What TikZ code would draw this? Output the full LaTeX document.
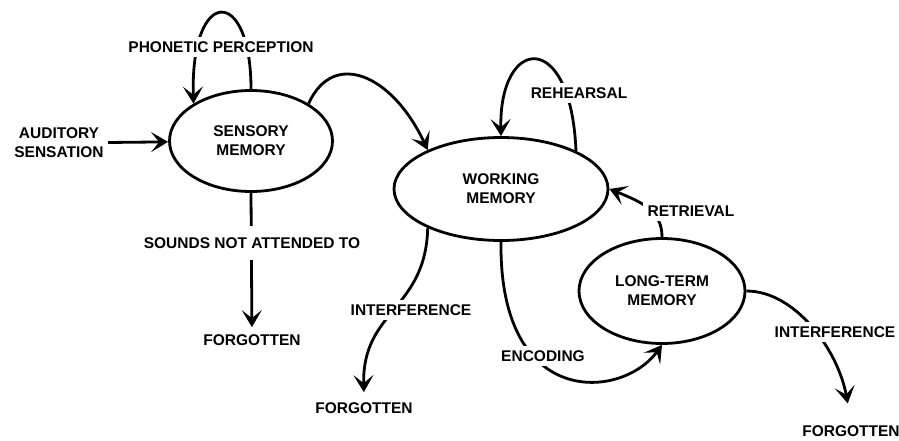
\documentclass[tikz,border=0pt]{standalone}
\usepackage{fontspec}
\setmainfont{Liberation Sans}
\usetikzlibrary{shapes,arrows,arrows.meta,positioning}

\begin{document}
\begin{tikzpicture}[x=1pt,y=-1pt,line width=2.8pt,
        font=\fontsize{15.5}{19}\selectfont\bfseries]
    \tikzstyle{store} = [ellipse, draw, inner sep=0pt, align=center]
    \tikzstyle{word} = [align=center, inner sep=3pt]
    \tikzstyle{cut} = [fill=white, inner sep=5pt]
    \tikzstyle{arrow} = [->,>={Stealth[length=17pt,width=20pt,inset=8pt]}]

    \useasboundingbox (0,0) rectangle (899,440);

    \node [store, minimum width=163pt, minimum height=101pt] (sm) at (251,141) {SENSORY\\MEMORY};
    \node [store, minimum width=214pt, minimum height=103pt] (wm) at (501,189) {WORKING\\MEMORY};
    \node [store, minimum width=166pt, minimum height=105pt] (ltm) at (662,291) {LONG-TERM\\MEMORY};

    \node [word] (aud) at (59,143) {AUDITORY\\SENSATION};
    \node [word] (gone1) at (252,340) {FORGOTTEN};
    \node [word] (gone2) at (364,408) {FORGOTTEN};
    \node [word] (gone3) at (851,431) {FORGOTTEN};

    % connectors
    \draw [arrow] (aud) -- (sm);
    \draw [arrow] (sm.north) .. controls +(0,-104) and +(-3,-118) .. (sm.147);
    \draw [arrow] (sm.33) .. controls +(25,-55) and +(-35,-75) .. (wm.152);
    \draw [arrow] (wm.27) .. controls +(-5,-123) and +(-2,-100) .. (wm.north);
    \draw [arrow] (ltm.north) .. controls +(0,-25) and +(35,14) .. (wm.east);
    \draw [arrow] (wm.south) .. controls +(-2,168) and +(-40,55) .. (ltm.south);
    \draw [arrow, shorten >=3pt] (sm.south) -- (gone1);
    \draw [arrow, shorten >=6pt] (wm.208) .. controls +(-2,82) and +(-2,-88) .. (gone2.north);
    \draw [arrow, shorten >=18pt] (ltm.east) .. controls +(49,0) and +(-13,-71) .. (gone3.north);

    % labels on the connectors
    \node [cut] (phon) at (221,47) {PHONETIC PERCEPTION};
    \node [cut] (rehe) at (579,93) {REHEARSAL};
    \node [cut] (retr) at (691,211) {RETRIEVAL};
    \node [cut, inner ysep=12pt] (snd) at (252,243) {SOUNDS NOT ATTENDED TO};
    \node [cut] (intf1) at (411,310) {INTERFERENCE};
    \node [cut] (enc) at (543,356) {ENCODING};
    \node [cut] (intf2) at (835,332) {INTERFERENCE};
\end{tikzpicture}
\end{document}
